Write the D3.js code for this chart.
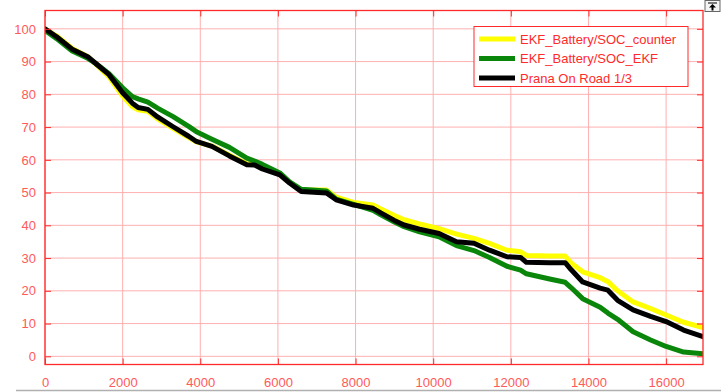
<!DOCTYPE html>
<html>
<head>
<meta charset="utf-8">
<script src="https://cdn.jsdelivr.net/npm/d3@7"></script>
<style>
  body { margin: 0; background: #fff; }
  svg { display: block; font-family: "Liberation Sans", Arial, sans-serif; }
</style>
</head>
<body>
<svg id="chart" width="721" height="392"></svg>
<script>
// time axis samples (shared by the three series)
var xValues = [0, 300, 700, 1100, 1300, 1650, 2000, 2250, 2400, 2650, 2900, 3300, 3700, 3900, 4300,
  4750, 5200, 5400, 5600, 6050, 6300, 6600, 7250, 7500, 7950, 8450, 8650, 9000, 9250, 9650,
  10150, 10600, 11050, 11450, 11900, 12250, 12400, 13000, 13400, 13550, 13850, 14300, 14500,
  14750, 15150, 15600, 16000, 16450, 16950];

var socCounter = [100, 97.8, 94, 91.5, 89.3, 85.3, 79.5, 76.3, 75.3, 74.8, 72.5, 69.6, 66.8, 65.5, 64.2,
  61.4, 58.7, 58.7, 57.5, 55.6, 53.1, 50.8, 50.8, 48.6, 47.0, 46.2, 45, 43, 41.7, 40.4,
  39.0, 37.3, 36.0, 34.5, 32.4, 31.9, 30.8, 30.6, 30.6, 28.5, 25.8, 24.0, 22.8,
  20.0, 16.6, 14.6, 12.6, 10.4, 8.8];

var socEkf = [99.5, 97.0, 93.2, 91, 89.5, 86.3, 82, 79.3, 78.6, 77.6, 75.8, 73.2, 70.2, 68.6, 66.3,
  63.8, 60.5, 59.6, 58.6, 56.0, 53.3, 51.0, 50.5, 48.0, 46.4, 44.6, 43.2, 41.0, 39.6, 38.0,
  36.5, 33.8, 32.3, 30.2, 27.5, 26.3, 25.2, 23.6, 22.6, 21.0, 17.6, 15.0, 13.2,
  11.3, 7.5, 5.0, 3.0, 1.3, 0.8];

var pranaRoad = [100, 97.6, 93.8, 91.5, 89.5, 86, 80.5, 77.3, 76, 75.4, 73.1, 70.1, 67.2, 65.6, 64.1,
  61.2, 58.5, 58.4, 57.2, 55.4, 52.9, 50.3, 49.9, 47.8, 46.2, 45.2, 43.8, 41.5, 40.1, 38.8,
  37.5, 35, 34.5, 32.4, 30.4, 30.2, 28.7, 28.6, 28.6, 26.5, 22.7, 20.8, 20.2,
  17.1, 14.2, 12.2, 10.6, 8.0, 6.0];

var seriesNames = ["EKF_Battery/SOC_counter", "EKF_Battery/SOC_EKF", "Prana On Road 1/3"];
var seriesColors = ["#ffff00", "#0a870a", "#000000"];

var xTicks = [0, 2000, 4000, 6000, 8000, 10000, 12000, 14000, 16000];
var yTicks = [0, 10, 20, 30, 40, 50, 60, 70, 80, 90, 100];

var svg = d3.select("#chart");
var margin = {top: 10.5, right: 18, bottom: 27.5, left: 45};
var width = 721 - margin.left - margin.right;
var height = 392 - margin.top - margin.bottom;

var axisColor = "#ff2a2a";
var labelColor = "#ff5a5a";
var gridColor = "#ffb0b0";

var x = d3.scaleLinear().domain([0, 16950]).range([0, width]);
var y = d3.scaleLinear().domain([-2.5, 105.6]).range([height, 0]);

var g = svg.append("g").attr("transform", "translate(" + margin.left + "," + margin.top + ")");

// grid
g.append("g").selectAll("line").data(xTicks).enter().append("line")
  .attr("x1", function(d){ return x(d); }).attr("x2", function(d){ return x(d); })
  .attr("y1", 0).attr("y2", height)
  .attr("stroke", gridColor).attr("stroke-width", 1);
g.append("g").selectAll("line").data(yTicks).enter().append("line")
  .attr("x1", 0).attr("x2", width)
  .attr("y1", function(d){ return y(d); }).attr("y2", function(d){ return y(d); })
  .attr("stroke", gridColor).attr("stroke-width", 1);

// lines
svg.append("clipPath").attr("id", "clip").append("rect")
  .attr("width", width).attr("height", height);

var line = d3.line()
  .x(function(d){ return x(d[0]); })
  .y(function(d){ return y(d[1]); });

var allSeries = [socCounter, socEkf, pranaRoad];
g.append("g").attr("clip-path", "url(#clip)")
  .selectAll("path").data(allSeries).enter().append("path")
  .attr("fill", "none")
  .attr("stroke", function(d, i){ return seriesColors[i]; })
  .attr("stroke-width", 5)
  .attr("stroke-linejoin", "round")
  .attr("stroke-linecap", "round")
  .attr("d", function(d){ return line(xValues.map(function(v, i){ return [v, d[i]]; })); });

// axes
function styleAxis(sel){
  sel.select(".domain").remove();
  sel.selectAll(".tick line").attr("stroke", axisColor);
  sel.selectAll(".tick text").attr("fill", labelColor).style("font-size", "13px");
}

g.append("g").attr("transform", "translate(0," + height + ")")
  .call(d3.axisBottom(x).tickValues(xTicks).tickSize(-6).tickPadding(13).tickFormat(d3.format("d")))
  .call(styleAxis);
g.append("g")
  .call(d3.axisLeft(y).tickValues(yTicks).tickSize(-6).tickPadding(9).tickFormat(d3.format("d")))
  .call(styleAxis);
g.append("g")
  .call(d3.axisTop(x).tickValues(xTicks).tickSize(-6).tickFormat(""))
  .call(styleAxis);
g.append("g").attr("transform", "translate(" + width + ",0)")
  .call(d3.axisRight(y).tickValues(yTicks).tickSize(-6).tickFormat(""))
  .call(styleAxis);

g.append("rect").attr("width", width).attr("height", height)
  .attr("fill", "none").attr("stroke", axisColor).attr("stroke-width", 1.3);

// legend
var legend = svg.append("g").attr("transform", "translate(474,26.5)");
legend.append("rect").attr("width", 214).attr("height", 60)
  .attr("fill", "#fff").attr("stroke", axisColor).attr("stroke-width", 1);
var rows = legend.selectAll(".row").data(seriesNames).enter().append("g")
  .attr("class", "row")
  .attr("transform", function(d, i){ return "translate(0," + (12.5 + i * 19.5) + ")"; });
rows.append("line").attr("x1", 5).attr("x2", 41)
  .attr("stroke", function(d, i){ return seriesColors[i]; })
  .attr("stroke-width", 5);
rows.append("text").attr("x", 46).attr("dy", "0.36em")
  .attr("fill", axisColor).style("font-size", "13px")
  .text(function(d){ return d; });

// small corner button
var btn = svg.append("g").attr("transform", "translate(705,0.5)");
btn.append("rect").attr("width", 15).attr("height", 11)
  .attr("fill", "#f4f4f4").attr("stroke", "#666");
btn.append("line").attr("x1", 3).attr("x2", 12).attr("y1", 2.5).attr("y2", 2.5)
  .attr("stroke", "#000").attr("stroke-width", 1);
btn.append("path").attr("d", "M7.5,3.5 L4,7 L6.5,7 L6.5,10 L8.5,10 L8.5,7 L11,7 Z")
  .attr("fill", "#000");

// bottom separator
svg.append("line").attr("x1", 16).attr("x2", 721).attr("y1", 390.5).attr("y2", 390.5)
  .attr("stroke", "#b0b0b0").attr("stroke-width", 1.5);
</script>
</body>
</html>
